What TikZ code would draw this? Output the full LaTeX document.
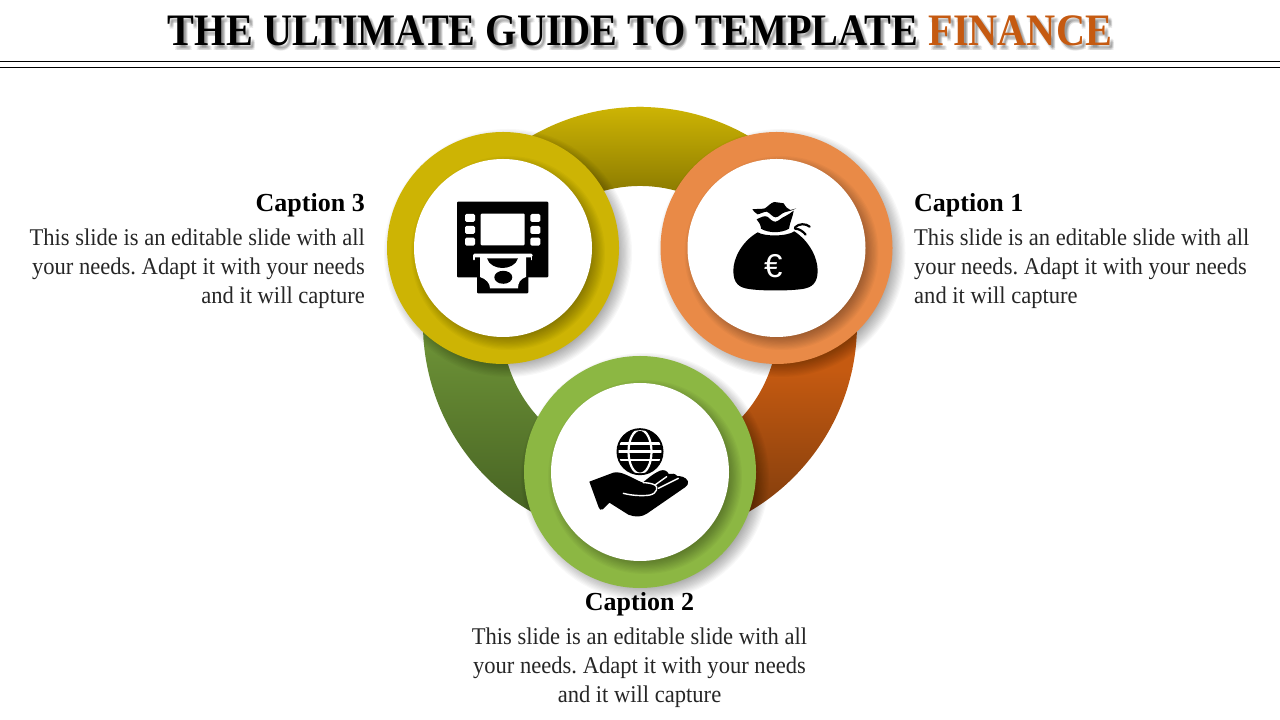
\documentclass[tikz,border=0pt]{standalone}
\usepackage{fontspec}
\setmainfont{Liberation Serif}
\newfontfamily\eurofont{Liberation Sans}
\newfontfamily\ttlfont[FakeStretch=.895]{Liberation Serif}
\newfontfamily\bodyfont[FakeStretch=.94]{Liberation Serif}
\usetikzlibrary{calc}
\definecolor{ringY}{HTML}{CDB404}
\definecolor{ringO}{HTML}{E98A47}
\definecolor{ringG}{HTML}{8CB743}
\definecolor{finance}{HTML}{C55A11}
\definecolor{bodytext}{HTML}{262626}
\definecolor{segYb}{HTML}{7F7000}
\definecolor{segOb}{HTML}{7A3A0C}
\definecolor{segGt}{HTML}{6C9136}
\definecolor{segGb}{HTML}{445F22}
\newcommand\softshadow[3]{\foreach \k in {0,...,19}{\fill[black,opacity=.028] (#1+5,#2-5) circle ({#3+8-\k*1.2});}}
\newcommand\ttltext[1]{THE ULTIMATE GUIDE TO TEMPLATE \textcolor{#1}{FINANCE}}
\newcommand\bodyblock{This slide is an editable slide with all\\your needs. Adapt it with your needs\\and it will capture}
\newcommand\segmentx[6]{%
  \begin{scope}
    \clip ($(640,396)+(#1:217)$) arc[start angle=#1,end angle=#2,radius=217] -- ($(640,396)+(#2:138)$) arc[start angle=#2,end angle=#1,radius=138] -- cycle;
    \fill[#3] (400,#5) rectangle (880,720);
    \fill[#4] (400,#6) rectangle (880,0);
    \shade[top color=#3,bottom color=#4] (400,#5) rectangle (880,#6);
  \end{scope}}
\tikzset{
  pxs/.style={shift={(0,720)},yscale=-1},
  ttlstyle/.style={inner sep=0,anchor=base,font=\ttlfont\fontsize{45}{50}\selectfont\bfseries},
  hrulestyle/.style={black,line width=1.2pt},
  captstyle/.style={inner sep=0,font=\fontsize{26}{30}\selectfont\bfseries,text=black},
  bodytxt/.style={inner sep=0,font=\bodyfont\frenchspacing\fontsize{24}{29}\selectfont,text=bodytext},
  outerdisc/.style={circle,minimum size=232pt,inner sep=0,fill=#1},
  innerdisc/.style={circle,minimum size=178pt,inner sep=0,fill=white},
  icon/.style={fill=black,draw=none},
  whiteline/.style={draw=white,line cap=round,line join=round},
}
\begin{document}
\begin{tikzpicture}[x=1pt,y=1pt]
\useasboundingbox (0,0) rectangle (1280,720);
\fill[white] (0,0) rectangle (1280,720);
% title
\foreach \dx/\dy [count=\i] in {2/-3,4/-3,2/-5,4/-5,3/-2,3/-4}{
  \node[ttlstyle,text=black,opacity=.08] (titleshadow\i) at (640+\dx,674+\dy) {\ttltext{black}};
}
\node[ttlstyle,text=black] (titletext) at (640,674) {\ttltext{finance}};
\coordinate (ruleAl) at (0,658.5); \coordinate (ruleAr) at (1280,658.5);
\coordinate (ruleBl) at (0,652.5); \coordinate (ruleBr) at (1280,652.5);
\draw[hrulestyle] (ruleAl) -- (ruleAr);
\draw[hrulestyle] (ruleBl) -- (ruleBr);
% ring
\segmentx{30}{150}{ringY}{segYb}{613}{510}{}
\segmentx{-90}{30}{finance}{segOb}{350}{190}{}
\segmentx{150}{270}{segGt}{segGb}{380}{190}{}
% orange
\softshadow{776.5}{472}{116}
\node[outerdisc=ringO] (discO) at (776.5,472) {};
\softshadow{776.5}{472}{89}
\node[innerdisc] (holeO) at (776.5,472) {};
% yellow
\softshadow{503}{472}{116}
\node[outerdisc=ringY] (discY) at (503,472) {};
\softshadow{503}{472}{89}
\node[innerdisc] (holeY) at (503,472) {};
% green
\softshadow{640}{248}{116}
\node[outerdisc=ringG] (discG) at (640,248) {};
\softshadow{640}{248}{89}
\node[innerdisc] (holeG) at (640,248) {};
% ATM icon (px coordinates)
\begin{scope}[pxs]
  \fill[icon,rounded corners=1pt] (457,201.7) rectangle (548.3,277.3);
  \fill[icon,rounded corners=1pt] (477,270) rectangle (528.3,293.3);
  \fill[white,rounded corners=1pt] (480.7,213.7) rectangle (524.7,245.3);
  \foreach \yy in {214,226,237.7}{
    \fill[white,rounded corners=1.5pt] (465,\yy) rectangle (475,\yy+8);
    \fill[white,rounded corners=1.5pt] (530.3,\yy) rectangle (540.3,\yy+8);
  }
  \fill[white,rounded corners=1.5pt] (473,253.7) rectangle (532.7,257.3);
  \draw[white,line width=1.8pt,line cap=round] (474.3,256) -- (474.3,259.5);
  \draw[white,line width=1.8pt,line cap=round] (531.4,256) -- (531.4,259.5);
  \fill[white] (480,256) -- (526,256) -- (526,277) .. controls (520,279) and (518,283) .. (518,288.3) -- (490,288.3) .. controls (490,283) and (486,279) .. (480,277) -- cycle;
  \fill[icon] (487,258.3) -- (518,258.3) .. controls (516,265) and (509,268) .. (502.5,268) .. controls (496,268) and (489,265) .. (487,258.3) -- cycle;
  \fill[icon] (503.3,277.3) ellipse[x radius=9,y radius=6.5];
\end{scope}
% money bag icon: coordinates of a 3x crop at (715,190)
\begin{scope}[pxs,shift={(715,190)},scale=1/3]
  \fill[icon] (128,127) .. controls (150,140) and (215,140) .. (238,124)
     .. controls (285,155) and (308,205) .. (308,242)
     .. controls (308,280) and (290,293) .. (262,297)
     .. controls (220,303) and (140,303) .. (102,297)
     .. controls (72,293) and (55,280) .. (55,242)
     .. controls (55,205) and (80,155) .. (128,127) -- cycle;
  \fill[icon] (125,88) .. controls (138,82) and (148,76) .. (157,80)
     .. controls (165,86) and (172,96) .. (182,95)
     .. controls (192,93) and (200,82) .. (212,78)
     .. controls (220,74) and (228,68) .. (236,62)
     .. controls (234,80) and (225,95) .. (222,116)
     .. controls (200,130) and (160,130) .. (138,116)
     .. controls (138,106) and (132,96) .. (125,88) -- cycle;
  \fill[icon] (112,58) .. controls (125,56) and (138,58) .. (150,55)
     .. controls (160,48) and (168,38) .. (178,36)
     .. controls (188,38) and (198,38) .. (206,40)
     .. controls (212,50) and (218,58) .. (226,60)
     .. controls (232,59) and (238,57) .. (244,55)
     .. controls (235,60) and (222,64) .. (212,66)
     .. controls (200,68) and (192,82) .. (182,82)
     .. controls (172,82) and (165,68) .. (155,65)
     .. controls (146,65) and (136,72) .. (128,73)
     .. controls (122,70) and (116,64) .. (112,58) -- cycle;
  \draw[black,line width=2.2pt,line cap=round] (240,112) .. controls (252,100) and (272,100) .. (284,110);
  \draw[black,line width=2.2pt,line cap=round] (240,116) .. controls (252,116) and (264,124) .. (272,134);
  \node[inner sep=0,text=white,font=\eurofont\fontsize{33}{34}\selectfont] (euro) at (175,228) {€};
\end{scope}
% hand and globe icon
\begin{scope}[pxs]
  \fill[icon] (640,451.7) circle (23.5);
  \begin{scope}
    \clip (640,451.7) circle (21.5);
    \foreach \yy in {443.4,451.7,460}{\draw[white,line width=2.4pt] (610,\yy) -- (670,\yy);}
    \draw[white,line width=2.2pt] (640,451.7) ellipse[x radius=11.5,y radius=22];
  \end{scope}
\end{scope}
\begin{scope}[pxs,shift={(580,420)},scale=1/3]
  \fill[icon] (28,185) -- (100,158) .. controls (125,152) and (150,172) .. (188,188)
     .. controls (200,178) and (218,162) .. (240,152)
     .. controls (252,148) and (262,152) .. (266,162)
     .. controls (275,160) and (285,160) .. (292,168)
     .. controls (300,168) and (318,170) .. (324,184)
     .. controls (326,192) and (322,198) .. (315,202)
     -- (202,280) .. controls (185,292) and (165,292) .. (145,284)
     -- (88,248) -- (68,268) .. controls (62,272) and (58,268) .. (56,262) -- cycle;
  \draw[whiteline,line width=1.4pt] (130,220) .. controls (160,228) and (195,228) .. (210,225) .. controls (232,220) and (235,200) .. (225,195) .. controls (215,190) and (200,188) .. (190,188);
  \draw[whiteline,line width=1.4pt] (225,195) -- (260,170);
  \draw[whiteline,line width=1.4pt] (235,205) -- (295,175);
\end{scope}
% captions
\node[captstyle,anchor=base west] (cap1) at (914,508) {Caption 1};
\node[bodytxt,align=left,anchor=north west] (body1) at (914,491) {\bodyblock};
\node[captstyle,anchor=base east] (cap3) at (365,508) {Caption 3};
\node[bodytxt,align=right,anchor=north east] (body3) at (365,491) {\bodyblock};
\node[captstyle,anchor=base] (cap2) at (639.5,109) {Caption 2};
\node[bodytxt,align=center,anchor=north] (body2) at (639.5,92) {\bodyblock};
\end{tikzpicture}
\end{document}
